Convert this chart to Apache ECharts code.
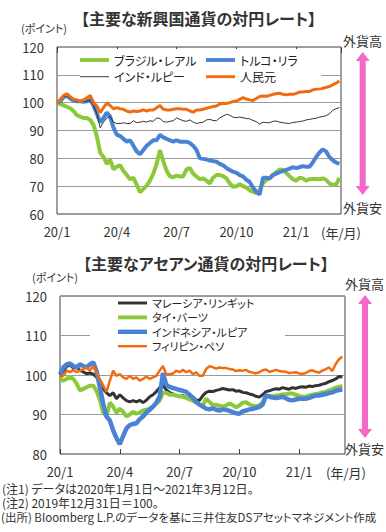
<!DOCTYPE html>
<html><head><meta charset="utf-8">
<script src="https://cdn.jsdelivr.net/npm/echarts@6/dist/echarts.min.js"></script>
<style>
html,body{margin:0;padding:0;background:#fff;}
#c{width:386px;height:532px;}
svg text{font-feature-settings:"palt" !important;}
</style></head><body><div id="c"></div>
<script>
// ---- data ----
const xTickLabels = ['20/1', '20/4', '20/7', '20/10', '21/1'];
const topYTicks = [60, 70, 80, 90, 100, 110, 120];
const bottomYTicks = [80, 90, 100, 110, 120];

const topNames = ['ブラジル・レアル', 'トルコ・リラ', 'インド・ルピー', '人民元'];
const bottomNames = ['マレーシア・リンギット', 'タイ・バーツ', 'インドネシア・ルピア', 'フィリピン・ペソ'];

// samples every 1/6 month from 2020/1/1
const brl = [100,99.5,99,98.5,98,97,95.5,95,94.5,94.5,
  93.8,92,88,82,80.5,78,79.5,76,77,77.5,
  75.5,74,72.5,73,70.5,67.8,69,70.2,72,74.5,
  78,83,79,75.5,73.5,73.2,73.8,73.5,73.5,76,
  76.5,74.5,73.5,72.5,72.8,72,71,73,74,74,
  73.6,72.8,71,69.8,70,70.7,70,69.5,68.5,68,
  67.5,68.5,71,72.2,72.8,74,75,76,75.8,74.8,
  73.6,72.5,72,73,72.8,72,72.5,72.6,72.6,72.5,
  72.8,72.3,71,70.5,70.5,73];
const tryl = [100,100.5,102,102.5,101.5,100.8,100.5,100.5,100.3,100.5,
  101,99,96,93,94.5,96.5,95,91,88.5,88,
  87,86,86.5,84.5,82.5,81.5,83,84.5,85.5,86.5,
  86.5,88.5,87.5,87,86.5,86,86.5,86,86,86,
  85.5,84.5,83,80,79.8,79.6,79.2,79,78.8,78,
  77.5,76.5,75.8,75.2,74.8,74,73.5,72.3,71.5,69.5,
  68,67,73,73,72.8,74,74.5,75,75.5,75.8,
  76.3,76.8,76.5,76.8,77.2,77,77,78.5,80.5,82,
  83.2,82.5,80.5,79.3,78.5,78];
const inr = [100,101,102,102.5,101.5,101,100.5,100.5,100.5,100.5,
  101,99,96,91,93,94.5,95,93,92.5,92.5,
  92.8,92.5,92.5,93.5,92.8,93,93.3,93,93.5,93.3,
  94.5,94.3,93.2,93,93.3,93.5,94.5,94,93.5,93.3,
  93.8,93,92.5,92.8,93,93.8,94,93.6,93.5,94.5,
  95.2,95.8,95.5,94.8,94.6,94.8,94.6,94.3,94.2,93.6,
  93.2,92.3,93,92.8,92.8,93.3,93.4,93,92.8,92.6,
  92.5,92.9,93,93.2,93.4,93.8,94,94.2,94.4,94.8,
  95,95.3,96,97.3,97.8,98.2];
const cny = [100,101.2,102.6,103.2,102.2,101.2,101,100.6,101,101.8,
  102.6,100,98.8,96.4,98.2,99.8,99,97.8,98.2,97.8,
  97.6,97,96.6,97,96.8,97,97.4,97,97.4,97.4,
  98.2,99,97.6,97.4,97.4,97.6,97.8,97.8,97.6,97.6,
  97,96.6,97.4,97.4,97.6,98,98.3,98.6,98.8,99.5,
  99.8,99.7,100,100.4,100.6,101.2,101.8,101.3,101,100.8,
  101.5,102.2,102.4,102.3,102.6,103,103.2,103.4,103,102.8,
  103,103,103.3,103.8,103.8,104,104,104.6,104.8,105,
  105.2,105.5,105.8,106.4,107,107.8];

const myr = [100,101,102.2,102.5,101.8,102,101.2,100.8,100.3,100.5,
  100.2,99.5,98,96.5,95.5,94.8,95.5,94,95,94.2,
  93.5,93.2,93.5,93.2,93.6,93,93.6,94.5,95,95.8,
  96.8,97.5,96.2,95.5,95.2,94.8,94.5,94.8,94.3,93.8,
  94.5,93.6,93.6,94.8,95.6,95.9,95.8,96.1,96.3,96.6,
  96.4,96.2,96.3,95.9,96,95.6,95.5,95.2,95,94.6,
  94.4,95,95.8,96,96.3,96.5,96.4,96.8,96.6,96.4,
  96.8,96.6,96.9,97,96.9,97.2,97.1,97.3,97.4,97.7,
  97.9,98.3,98.6,99,99.6,99.5];
const thb = [98.8,98.6,99,99.6,99,97.8,96.1,96.5,96.9,97.3,
  97.3,96,93.7,90.5,89.5,93,92,90.4,91.5,90.7,
  89.5,90,90.7,90.2,90.5,91,91.2,91.5,92,92.8,
  93.5,95.5,95.5,95,95,94.8,94.6,94.5,94.2,93.8,
  93.5,93,92.5,92.3,94,93.2,92.4,92.5,92.2,92,
  92.3,92.8,92.4,91.8,92.3,93,93.1,92.6,92.2,92,
  92.4,93,94.8,94.7,94.6,94.8,94.9,95.1,95.1,95.3,
  95.3,95,94.7,94.5,94.5,94.8,95,95.2,95.3,95.6,
  95.8,96.1,96.4,96.8,97,97.2];
const idr = [100.2,101.9,102.7,102.9,102.3,101.9,102.7,102.3,101.9,102.7,
  103.2,101,96.9,92.8,89.5,88.5,86,84,82.5,84.5,
  86.5,87.3,87.6,87.8,88.8,89.5,90.5,91.2,92,93,
  94.5,100.5,97.5,97,96.7,96.5,96.2,96,95.7,95,
  94.2,93.2,92.5,92,91.5,91.3,91.6,91.2,91,91.3,
  91.2,90.9,90.6,90.3,90.2,90.8,91,91.3,91.4,91.7,
  91.9,92.5,94.8,94.5,94.3,94.2,94.3,94.5,94.1,93.7,
  93.6,93.8,94,94,94,94.2,94.5,94.8,94.8,95,
  95.2,95.4,95.6,96,96.2,96.3];
const php = [99.5,99.8,101.1,100.7,101.3,100.7,101.1,101.5,101.9,101.1,
  102.3,100.7,99,97.3,95.7,98.6,101.1,99.8,100.2,99.4,
  99,99.8,99,99.4,98.6,99,99.6,99,99.4,99.8,
  101.1,102.3,100.2,100.2,100.4,101.1,100.7,101.3,100.7,101.1,
  100.2,100.7,99.8,99.8,101.5,102.2,102,101.6,101.9,101.8,
  101.8,101.5,101.4,101,101.2,101.1,101.3,100.8,100.6,100.4,
  100.7,101.2,101.4,100.8,101,101.3,101,100.9,100.8,100.5,
  100.6,100.7,100.4,100.3,100.5,101,101.2,100.8,100.6,101.1,
  101.5,101.9,101,102.8,104,104.7];

// ---- chart ----
const FONT = "'Noto Sans CJK JP', 'Noto Sans', sans-serif";
const TXT = '#333';
const C_GREEN = '#8cc83c', C_BLUE = '#4a82d6', C_ORANGE = '#f06c12', C_BLACK = '#333333';

const toPts = arr => arr.map((v, i) => [i / 6, v]);

function line(name, arr, color, width, gi, z) {
  return {
    type: 'line', name: name, data: toPts(arr), xAxisIndex: gi * 2, yAxisIndex: gi,
    symbol: 'none', smooth: false, z: z, animation: false,
    lineStyle: { color: color, width: width }, itemStyle: { color: color }
  };
}
function legItem(name, w) {
  return { name: name, icon: 'path://M0,0H30V' + w + 'H0Z' };
}

function xLabel(v) {
  if (Math.abs(v / 3 - Math.round(v / 3)) < 1e-6) {
    const i = Math.round(v / 3);
    return xTickLabels[i] || '';
  }
  return '';
}

function yAxis(gi, ticks) {
  return {
    type: 'value', gridIndex: gi, min: ticks[0], max: ticks[ticks.length - 1], interval: 10,
    axisLine: { show: false }, axisTick: { show: false },
    axisLabel: { fontSize: 13, color: TXT, fontFamily: FONT, margin: 13 },
    splitLine: { show: true, lineStyle: { color: '#9a9a9a', width: 1 } }
  };
}

function txt(x, y, s, size, align, bold, lh) {
  const st = { text: s, fontSize: size, fontFamily: FONT, fill: TXT, fontWeight: bold ? 'bold' : 'normal',
      align: align || 'center', verticalAlign: 'middle' };
  if (lh) st.lineHeight = lh;
  return { type: 'text', x: x, y: y, z: 100, style: st };
}
function arrow(cx, top, bot) {
  const hw = 7, hl = 9, sw = 3;
  return { type: 'polygon', z: 100, shape: { points: [
    [cx, top], [cx + hw, top + hl], [cx + sw, top + hl], [cx + sw, bot - hl], [cx + hw, bot - hl],
    [cx, bot], [cx - hw, bot - hl], [cx - sw, bot - hl], [cx - sw, top + hl], [cx - hw, top + hl]] },
    style: { fill: '#f468c8' } };
}

const legendBase = {
  orient: 'vertical', itemWidth: 29, itemHeight: 14, backgroundColor: '#fff',
  textStyle: { fontSize: 12, color: '#222', fontFamily: FONT, lineHeight: 14 }
};

const chart = echarts.init(document.getElementById('c'), null, { renderer: 'svg' });
chart.setOption({
  animation: false,
  backgroundColor: '#fff',
  grid: [
    { left: 57, right: 45, top: 47, bottom: 318, show: true, borderColor: '#404040', borderWidth: 1, backgroundColor: 'transparent' },
    { left: 60, right: 41, top: 296, bottom: 78, show: true, borderColor: '#404040', borderWidth: 1, backgroundColor: 'transparent' }
  ],
  xAxis: [
    { type: 'value', gridIndex: 0, min: 0, max: 14.25, interval: 3, position: 'bottom',
      axisLine: { show: false }, axisTick: { show: false }, splitLine: { show: false },
      axisLabel: { formatter: xLabel, fontSize: 13, color: TXT, fontFamily: FONT, margin: 11, showMaxLabel: false } },
    { type: 'value', gridIndex: 0, min: 0, max: 14.25, interval: 3, position: 'top',
      axisLine: { show: false }, axisLabel: { show: false }, splitLine: { show: false },
      axisTick: { show: true, inside: true, length: 6, lineStyle: { color: '#404040' } } },
    { type: 'value', gridIndex: 1, min: 0, max: 14.3, interval: 3, position: 'bottom',
      axisLine: { show: false }, splitLine: { show: false },
      axisTick: { show: true, inside: true, length: 5, lineStyle: { color: '#404040' } },
      axisLabel: { formatter: xLabel, fontSize: 13, color: TXT, fontFamily: FONT, margin: 11, showMaxLabel: false } }
  ],
  yAxis: [ yAxis(0, topYTicks), yAxis(1, bottomYTicks) ],
  legend: [
    Object.assign({}, legendBase, { left: 80, top: 49, itemGap: 2.7, padding: [4, 6, 4, 0], z: 10,
      data: [legItem(topNames[0], 4), legItem(topNames[2], 1)] }),
    Object.assign({}, legendBase, { left: 206, top: 49, itemGap: 2.7, padding: [4, 9, 4, 0], z: 11,
      data: [legItem(topNames[1], 4), legItem(topNames[3], 3)] }),
    Object.assign({}, legendBase, { left: 90, top: 297, itemGap: 2.4, itemHeight: 14, padding: [0, 12, 3, 28], z: 10,
      textStyle: { fontSize: 11, color: '#222', fontFamily: FONT, lineHeight: 12 },
      data: [legItem(bottomNames[0], 3), legItem(bottomNames[1], 4), legItem(bottomNames[2], 4.5), legItem(bottomNames[3], 2.5)] })
  ],
  series: [
    line(topNames[0], brl, C_GREEN, 4, 0, 3),
    line(topNames[1], tryl, C_BLUE, 4, 0, 4),
    line(topNames[2], inr, C_BLACK, 1, 0, 5),
    line(topNames[3], cny, C_ORANGE, 3, 0, 6),
    line(bottomNames[0], myr, C_BLACK, 3, 1, 3),
    line(bottomNames[1], thb, C_GREEN, 4, 1, 4),
    line(bottomNames[2], idr, C_BLUE, 4.5, 1, 5),
    line(bottomNames[3], php, C_ORANGE, 2.5, 1, 6)
  ],
  graphic: [
    txt(198.5, 17.5, '【主要な新興国通貨の対円レート】', 16, 'center', true),
    txt(21, 27.5, '(ポイント)', 11, 'left'),
    txt(362.5, 40, '外貨高', 13),
    arrow(362.7, 52, 195),
    txt(362.5, 207.5, '外貨安', 13),
    txt(341, 232, '(年/月)', 13),
    txt(206, 263, '【主要なアセアン通貨の対円レート】', 16, 'center', true),
    txt(32, 277, '(ポイント)', 11, 'left'),
    txt(364.5, 283, '外貨高', 13),
    arrow(365, 295, 438),
    txt(364.5, 448, '外貨安', 13),
    txt(346, 472.5, '(年/月)', 13),
    txt(2, 488, '(注1) データは2020年1月1日～2021年3月12日。', 12, 'left', false, 13),
    txt(2, 502.5, '(注2) 2019年12月31日＝100。', 12, 'left', false, 13),
    txt(1, 517, '(出所) Bloomberg L.P.のデータを基に三井住友DSアセットマネジメント作成', 11.5, 'left', false, 13)
  ]
});
</script></body></html>
